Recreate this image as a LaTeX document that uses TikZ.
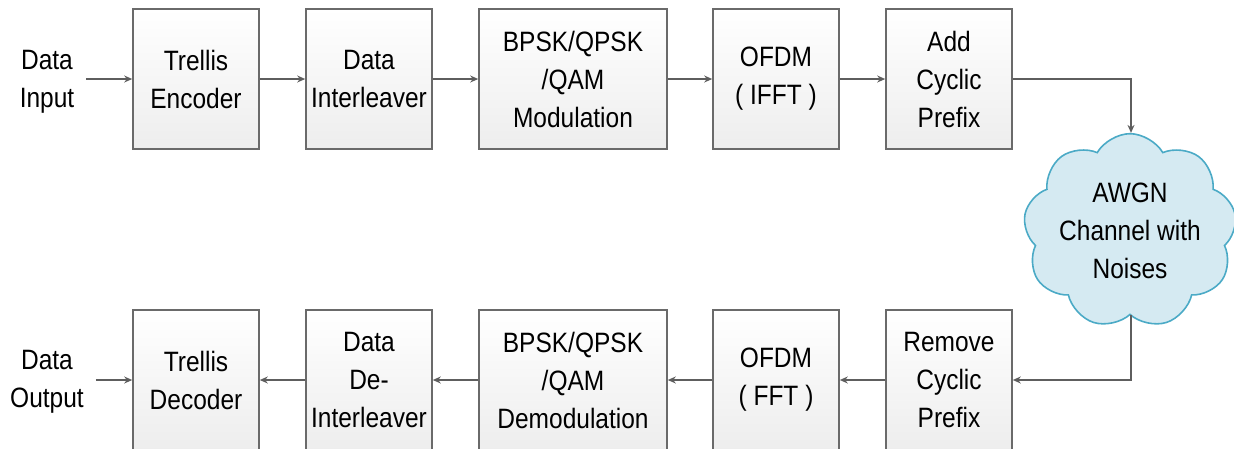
\documentclass[tikz,border=0pt]{standalone}
\usepackage{fontspec}
\setmainfont{Liberation Sans}[FakeStretch=0.875]
\usetikzlibrary{arrows.meta,shapes.symbols}
\definecolor{boxline}{HTML}{6A6A6A}
\definecolor{arrline}{HTML}{5E5E5E}
\definecolor{cloudfill}{HTML}{D5EAF2}
\definecolor{cloudline}{HTML}{4BAAC6}

\begin{document}
\begin{tikzpicture}[x=1pt,y=-1pt,
  font=\fontsize{28}{38}\selectfont,
  blk/.style={draw=boxline,line width=1.6pt,top color=white,bottom color=gray!14,
    minimum width=126pt,minimum height=140pt,align=center,inner sep=0pt},
  wideblk/.style={blk,minimum width=188pt},
  lbl/.style={align=center,inner xsep=12pt,inner ysep=0pt},
  arr/.style={draw=arrline,line width=1.6pt,-{Stealth[length=8pt,width=7pt]}}]
\clip (0,0) rectangle (1234,448);
%
\node[lbl] (in) at (47,82) {Data\\Input};
\node[blk] (enc) at (196,79) {Trellis\\Encoder};
\node[blk] (ilv) at (369,79) {Data\\Interleaver};
\node[wideblk] (mod) at (573,79) {BPSK/QPSK\\/QAM\\Modulation};
\node[blk] (ifft) at (776,79) {OFDM\\( IFFT )};
\node[blk] (addcp) at (949,79) {Add\\Cyclic\\Prefix};
%
\node[cloud,cloud puffs=9,cloud puff arc=120,aspect=1.15,draw=cloudline,line width=1.6pt,
  fill=cloudfill,align=center,inner xsep=-3pt,inner ysep=-7pt]
  (chan) at (1130,231) {AWGN\\Channel with\\Noises};
%
\node[lbl] (out) at (47,382) {Data\\Output};
\node[blk] (dec) at (196,380) {Trellis\\Decoder};
\node[blk] (dilv) at (369,380) {Data\\De-\\Interleaver};
\node[wideblk] (demod) at (573,380) {BPSK/QPSK\\/QAM\\Demodulation};
\node[blk] (fft) at (776,380) {OFDM\\( FFT )};
\node[blk] (remcp) at (949,380) {Remove\\Cyclic\\Prefix};
%
\draw[arr] (in.east|-enc) -- (enc);
\draw[arr] (enc) -- (ilv);
\draw[arr] (ilv) -- (mod);
\draw[arr] (mod) -- (ifft);
\draw[arr] (ifft) -- (addcp);
\coordinate (tc) at (1131,79);
\coordinate (bc) at (1131,380);
\draw[arr] (addcp.east) -- (tc) -- (chan.north-|tc);
\draw[arr] (chan.south-|bc) -- (bc) -- (remcp.east);
\draw[arr] (remcp) -- (fft);
\draw[arr] (fft) -- (demod);
\draw[arr] (demod) -- (dilv);
\draw[arr] (dilv) -- (dec);
\draw[arr] (out.east|-dec) -- (dec);
\end{tikzpicture}
\end{document}
